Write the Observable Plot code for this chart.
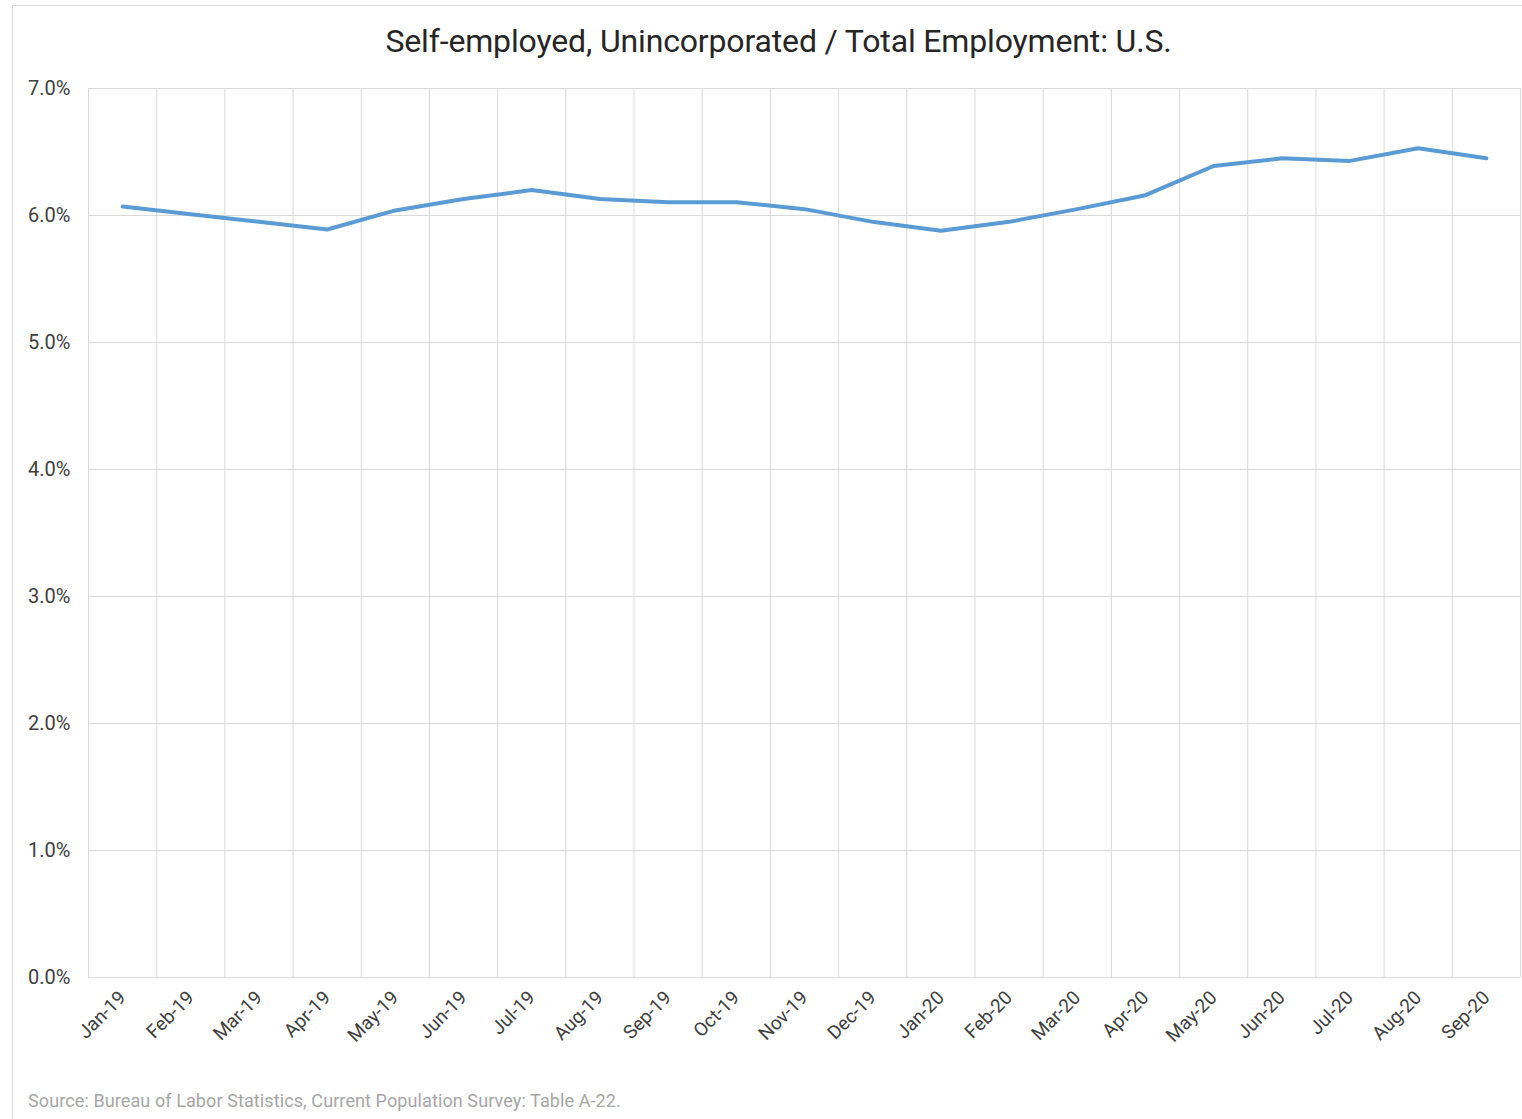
<!DOCTYPE html>
<html>
<head>
<meta charset="utf-8">
<script src="https://cdn.jsdelivr.net/npm/d3@7"></script>
<script src="https://cdn.jsdelivr.net/npm/@observablehq/plot@0.6"></script>
<style>
  html, body { margin: 0; padding: 0; background: #fff; }
  body { width: 1522px; height: 1119px; position: relative; overflow: hidden; font-family: Roboto, "Liberation Sans", sans-serif; }
  #frame { position: absolute; left: 12px; top: 5px; width: 1530px; height: 1130px; border: 1px solid #d9d9d9; box-sizing: border-box; }
  #title { position: absolute; left: 0; top: 22px; width: 1557px; text-align: center; font-size: 32px; color: #262626; letter-spacing: -0.15px; white-space: nowrap; }
  #chart { position: absolute; left: 0; top: 60px; }
  #source { position: absolute; left: 28px; top: 1090px; font-size: 18px; color: #a6a6a6; letter-spacing: 0.1px; white-space: nowrap; }
</style>
</head>
<body>
<div id="frame"></div>
<div id="title">Self-employed, Unincorporated / Total Employment: U.S.</div>
<div id="chart"></div>
<div id="source">Source: Bureau of Labor Statistics, Current Population Survey: Table A-22.</div>
<script>
const months = ["Jan-19","Feb-19","Mar-19","Apr-19","May-19","Jun-19","Jul-19","Aug-19","Sep-19","Oct-19","Nov-19","Dec-19",
                "Jan-20","Feb-20","Mar-20","Apr-20","May-20","Jun-20","Jul-20","Aug-20","Sep-20"];
const sharePct = [6.07, 6.01, 5.95, 5.89, 6.04, 6.13, 6.20, 6.13, 6.105, 6.105, 6.05, 5.95,
                  5.88, 5.95, 6.05, 6.16, 6.39, 6.45, 6.43, 6.53, 6.45];
const yTicks = [0, 1, 2, 3, 4, 5, 6, 7];

const table = months.map((m, i) => ({month: m, pos: i + 0.5, value: sharePct[i]}));
const boundaries = d3.range(months.length + 1);

const chart = Plot.plot({
  width: 1522,
  height: 1010,
  marginLeft: 88,
  marginRight: 2,
  marginTop: 28,
  marginBottom: 93,
  style: {fontFamily: "Roboto, 'Liberation Sans', sans-serif", background: "transparent"},
  x: {domain: [0, months.length], axis: null, label: null},
  y: {domain: [0, 7], axis: null, label: null},
  marks: [
    Plot.ruleY(yTicks, {y: d => d, stroke: "#d9d9d9", strokeWidth: 1}),
    Plot.ruleX(boundaries, {x: d => d, stroke: "#d9d9d9", strokeWidth: 1}),
    Plot.axisY(yTicks, {tickSize: 0, tickPadding: 18, fontSize: 20, fill: "#404040", label: null,
      tickFormat: d => d.toFixed(1) + "%"}),
    Plot.axisX(table.map(d => d.pos), {tickSize: 0, tickPadding: 17, tickRotate: -45, textAnchor: "end", fontSize: 19, fill: "#404040", label: null,
      tickFormat: d => months[Math.round(d - 0.5)]}),
    Plot.line(table, {x: "pos", y: "value", stroke: "#5b9bd5", strokeWidth: 4, strokeLinejoin: "round", strokeLinecap: "round"})
  ]
});
document.getElementById("chart").appendChild(chart);
</script>
</body>
</html>
